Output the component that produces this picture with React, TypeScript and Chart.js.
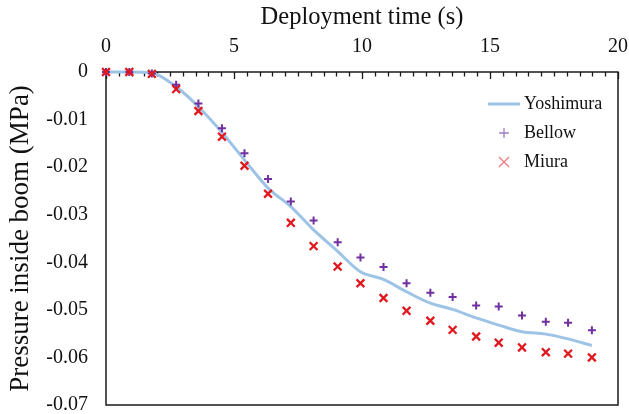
import React, { useEffect, useRef } from "react";
import { Chart, registerables } from "chart.js";

Chart.register(...registerables);

const timeS = [0, 0.91, 1.79, 2.74, 3.61, 4.53, 5.41, 6.33, 7.22, 8.11, 9.05, 9.94, 10.84, 11.74, 12.67, 13.54, 14.46, 15.34, 16.25, 17.18, 18.05, 18.98];
const yoshimura = [0, 0, -0.0002, -0.0031, -0.0073, -0.0127, -0.0185, -0.0244, -0.0283, -0.0332, -0.0377, -0.042, -0.0436, -0.0462, -0.0486, -0.0499, -0.0517, -0.0532, -0.0546, -0.0551, -0.0561, -0.0575];
const bellow = [0, 0, -0.0003, -0.0027, -0.0066, -0.0118, -0.0171, -0.0225, -0.0272, -0.0312, -0.0358, -0.039, -0.041, -0.0444, -0.0464, -0.0473, -0.0491, -0.0493, -0.0512, -0.0525, -0.0527, -0.0543];
const miura = [0, 0, -0.0004, -0.0036, -0.0082, -0.0136, -0.0197, -0.0256, -0.0317, -0.0366, -0.0409, -0.0444, -0.0475, -0.0502, -0.0523, -0.0542, -0.0556, -0.0569, -0.0579, -0.0589, -0.0592, -0.06];
const seriesNames = ["Yoshimura", "Bellow", "Miura"];
const xTitle = "Deployment time (s)";
const yTitle = "Pressure inside boom (MPa)";

const SERIF = "'Liberation Serif', 'Times New Roman', serif";
const LINE_COLOR = "#9DC3E6";
const PLUS_COLOR = "#7030A0";
const CROSS_COLOR = "#E0191F";

const framePlugin = {
  id: "frame",
  beforeDatasetsDraw(chart: any) {
    const { ctx, chartArea } = chart;
    const xs = chart.scales.x;
    ctx.save();
    ctx.strokeStyle = "#1a1a1a";
    ctx.lineWidth = 1.5;
    ctx.strokeRect(chartArea.left, chartArea.top, chartArea.right - chartArea.left, chartArea.bottom - chartArea.top);
    ctx.lineWidth = 1.3;
    for (const t of xs.ticks) {
      const px = Math.round(xs.getPixelForValue(t.value)) + 0.5;
      const major = Math.abs(t.value % 5) < 1e-6;
      const len = major ? 7 : 4.5;
      ctx.beginPath();
      ctx.moveTo(px, chartArea.top);
      ctx.lineTo(px, chartArea.top + len);
      ctx.stroke();
    }
    ctx.restore();
  },
  afterDraw(chart: any) {
    const { ctx } = chart;
    ctx.save();
    ctx.font = `18px ${SERIF}`;
    ctx.fillStyle = "#111";
    ctx.textBaseline = "middle";
    ctx.textAlign = "left";
    const tx = 524;
    ctx.strokeStyle = LINE_COLOR;
    ctx.lineWidth = 3;
    ctx.beginPath();
    ctx.moveTo(488, 104);
    ctx.lineTo(520, 104);
    ctx.stroke();
    ctx.fillText(seriesNames[0], tx, 104);
    ctx.strokeStyle = "#A07CCB";
    ctx.lineWidth = 1.3;
    ctx.beginPath();
    ctx.moveTo(499, 133);
    ctx.lineTo(509, 133);
    ctx.moveTo(504, 128);
    ctx.lineTo(504, 138);
    ctx.stroke();
    ctx.fillText(seriesNames[1], tx, 133);
    ctx.strokeStyle = "#EC7B7E";
    ctx.beginPath();
    ctx.moveTo(499, 157);
    ctx.lineTo(509, 167);
    ctx.moveTo(509, 157);
    ctx.lineTo(499, 167);
    ctx.stroke();
    ctx.fillText(seriesNames[2], tx, 162);
    ctx.restore();
  },
};

export default function App() {
  const ref = useRef<HTMLCanvasElement>(null);
  useEffect(() => {
    document.body.style.margin = "0";
    const pts = (ys: number[]) => timeS.map((t, i) => ({ x: t, y: ys[i] }));
    const chart = new Chart(ref.current!, {
      type: "scatter",
      data: {
        datasets: [
          {
            label: seriesNames[0],
            data: pts(yoshimura),
            showLine: true,
            borderColor: LINE_COLOR,
            backgroundColor: LINE_COLOR,
            borderWidth: 3,
            pointRadius: 0,
            cubicInterpolationMode: "monotone",
            clip: false,
            order: 3,
          } as any,
          {
            label: seriesNames[1],
            data: pts(bellow),
            pointStyle: "cross",
            pointRadius: 4,
            pointBorderWidth: 2,
            borderColor: PLUS_COLOR,
            backgroundColor: PLUS_COLOR,
            clip: false,
            order: 2,
          } as any,
          {
            label: seriesNames[2],
            data: pts(miura),
            pointStyle: "crossRot",
            pointRadius: 5.5,
            pointBorderWidth: 2.3,
            borderColor: CROSS_COLOR,
            backgroundColor: CROSS_COLOR,
            clip: false,
            order: 1,
          } as any,
        ],
      },
      options: {
        animation: false,
        responsive: false,
        maintainAspectRatio: false,
        layout: { padding: { left: 0, top: 0, right: 11, bottom: 9 } },
        plugins: { legend: { display: false }, tooltip: { enabled: false } },
        scales: {
          x: {
            type: "linear",
            position: "top",
            min: 0,
            max: 20,
            grid: { display: false, drawTicks: false },
            border: { display: false },
            ticks: {
              stepSize: 0.5,
              autoSkip: false,
              maxRotation: 0,
              padding: 13,
              color: "#111",
              font: { family: SERIF, size: 20 },
              callback: (v: any) => (Math.abs(v % 5) < 1e-6 ? String(Math.round(v)) : ""),
            },
            title: {
              display: true,
              text: xTitle,
              color: "#111",
              font: { family: SERIF, size: 24.5 },
              padding: { top: 3, bottom: 0 },
            },
            afterFit: (s: any) => {
              s.height = 72;
              s.paddingLeft = 0;
              s.paddingRight = 0;
              s.paddingTop = 0;
              s.paddingBottom = 0;
            },
          },
          y: {
            type: "linear",
            min: -0.07,
            max: 0,
            grid: { display: false, drawTicks: false },
            border: { display: false },
            ticks: {
              stepSize: 0.01,
              padding: 18,
              color: "#111",
              font: { family: SERIF, size: 20 },
              callback: (v: any) => (Math.abs(v) < 1e-9 ? "0" : Number(v).toFixed(2)),
            },
            title: {
              display: true,
              text: yTitle,
              color: "#111",
              font: { family: SERIF, size: 27 },
              padding: { top: 5, bottom: 0 },
            },
            afterFit: (s: any) => {
              s.width = 106;
              s.paddingLeft = 0;
              s.paddingRight = 0;
              s.paddingTop = 0;
              s.paddingBottom = 0;
            },
          },
        },
      },
      plugins: [framePlugin],
    });
    return () => chart.destroy();
  }, []);
  return (
    <div style={{ width: 629, height: 414 }}>
      <canvas ref={ref} width={629} height={414} style={{ display: "block" }} />
    </div>
  );
}
